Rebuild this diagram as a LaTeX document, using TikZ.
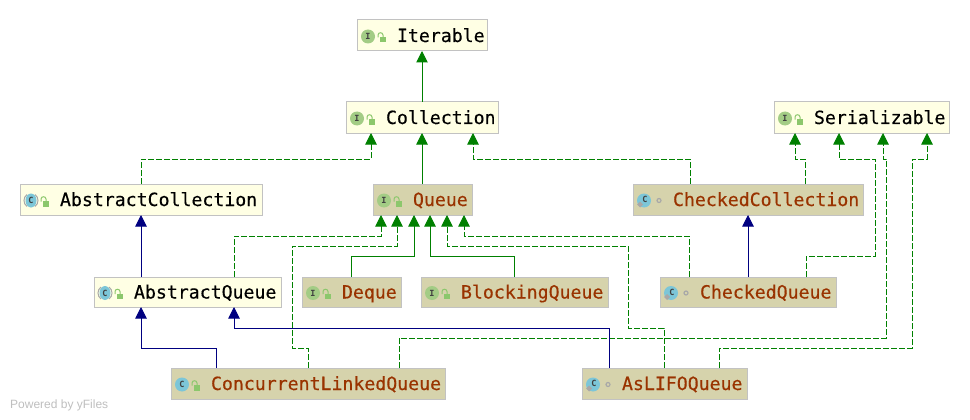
\documentclass[tikz,border=0pt]{standalone}
\usepackage{fontspec}
\setmainfont{Liberation Sans}
\newfontfamily\dmono[FakeBold=0.4]{DejaVu Sans Mono}
\newfontfamily\dmonoletter{DejaVu Sans Mono}
\usetikzlibrary{arrows.meta}
\definecolor{ygreen}{HTML}{008000}
\definecolor{ynavy}{HTML}{000080}
\definecolor{boxlight}{HTML}{FFFFE4}
\definecolor{boxtan}{HTML}{D6D3AC}
\definecolor{boxline}{HTML}{C2C2C2}
\definecolor{txtbrown}{HTML}{993300}
\definecolor{icoI}{HTML}{A3CC85}
\definecolor{icoC}{HTML}{7CC6D8}
\definecolor{icoLock}{HTML}{8CC76C}
\definecolor{icoGray}{HTML}{A8A8A8}
\tikzset{
  umlbase/.style={draw=boxline,line width=1pt,inner sep=0pt,outer sep=0pt,align=left,
    font=\dmono\fontsize{18.2}{20}\selectfont,text height=16pt,text depth=3pt,anchor=north west},
  lightbox/.style={umlbase,fill=boxlight,text=black},
  tanbox/.style={umlbase,fill=boxtan,text=txtbrown},
  conn/.style={line width=1pt,-{Triangle[length=11.5pt,width=11.5pt]}},
  ext/.style={conn,draw=ygreen},
  imp/.style={ext,dash pattern=on 6pt off 2pt},
  inh/.style={conn,draw=ynavy},
  icoletter/.style={font=\dmonoletter\bfseries\fontsize{8.5}{9}\selectfont,text=black!75,inner sep=0pt}
}
% \umlbox{style}{name}{left}{top}{right}{bottom}{text}
\newcommand{\umlbox}[7]{%
  \pgfmathsetmacro{\bw}{#5-#3}\pgfmathsetmacro{\bh}{#6-#4}%
  \node[#1,text width=\bw pt,minimum height=\bh pt] (#2) at (#3,#4) {\hspace*{40pt}#7};}
\newcommand{\icI}[1]{\begin{scope}[shift={(#1.west)}]
  \fill[icoI] (11,1) circle (7);
  \node[icoletter] at (11,1) {I};\end{scope}}
\newcommand{\icC}[1]{\begin{scope}[shift={(#1.west)}]
  \fill[icoC] (11,1) circle (7);
  \node[icoletter] at (11,1) {C};\end{scope}}
\newcommand{\icAbs}[1]{\begin{scope}[shift={(#1.west)}]
  \fill[icoC] (11,1) ellipse (5.5 and 7);
  \draw[icoGray,line width=1pt] (7,-5) .. controls (3,-2) and (3,4) .. (7,7);
  \draw[icoGray,line width=1pt] (15,-5) .. controls (19,-2) and (19,4) .. (15,7);
  \node[icoletter] at (11,1) {C};\end{scope}}
\newcommand{\icStat}[1]{\begin{scope}[shift={(#1.west)}]
  \fill[icoC] (11,1) circle (7);
  \fill[icoGray] (4,5) -- (7,2) -- (10,5) -- (7,8) -- cycle;
  \node[icoletter] at (12,0) {C};\end{scope}}
\newcommand{\icLock}[1]{\begin{scope}[shift={(#1.west)}]
  \fill[icoLock] (22.5,1.5) rectangle (29,7);
  \draw[icoLock,line width=1pt] (21,2) -- (21,-0.5) .. controls (21,-3.5) and (26,-3.5) .. (26,-0.5) -- (26,2);
  \end{scope}}
\newcommand{\icPkg}[1]{\begin{scope}[shift={(#1.west)}]
  \draw[icoGray,line width=1.2pt] (26,1) circle (2);\end{scope}}
\begin{document}
\begin{tikzpicture}[x=1pt,y=-1pt]
\useasboundingbox[fill=white] (0,0) rectangle (970,420);
% boxes
\umlbox{lightbox}{iter}{357}{20}{487}{51}{Iterable}
\umlbox{lightbox}{coll}{346}{102}{498}{133}{Collection}
\umlbox{lightbox}{ser}{774}{102}{949}{133}{Serializable}
\umlbox{lightbox}{ac}{20}{184}{262}{215}{AbstractCollection}
\umlbox{tanbox}{q}{373}{184}{472}{215}{Queue}
\umlbox{tanbox}{cc}{633}{184}{863}{215}{CheckedCollection}
\umlbox{lightbox}{aq}{94}{277}{281}{307}{AbstractQueue}
\umlbox{tanbox}{dq}{302}{277}{401}{307}{Deque}
\umlbox{tanbox}{bq}{421}{277}{608}{307}{BlockingQueue}
\umlbox{tanbox}{cq}{660}{277}{836}{307}{CheckedQueue}
\umlbox{tanbox}{clq}{171}{368}{445}{399}{ConcurrentLinkedQueue}
\umlbox{tanbox}{al}{582}{368}{747}{399}{AsLIFOQueue}
% icons
\icI{iter}\icLock{iter}
\icI{coll}\icLock{coll}
\icI{ser}\icLock{ser}
\icAbs{ac}\icLock{ac}
\icI{q}\icLock{q}
\icStat{cc}\icPkg{cc}
\icAbs{aq}\icLock{aq}
\icI{dq}\icLock{dq}
\icI{bq}\icLock{bq}
\icStat{cq}\icPkg{cq}
\icC{clq}\icLock{clq}
\icStat{al}\icPkg{al}
% solid extends
\draw[ext] ([xshift=76pt]coll.north west) -- ([xshift=65pt]iter.south west);
\draw[ext] ([xshift=49pt]q.north west) -- ([xshift=76pt]coll.south west);
\draw[ext] ([xshift=49pt]dq.north west) -- (351,256) -- (414,256) -- ([xshift=41pt]q.south west);
\draw[ext] ([xshift=93pt]bq.north west) -- (514,256) -- (430,256) -- ([xshift=57pt]q.south west);
% implements
\draw[imp] ([xshift=121pt]ac.north west) -- (141,159) -- (371,159) -- ([xshift=25pt]coll.south west);
\draw[imp] ([xshift=57pt]cc.north west) -- (690,159) -- (473,159) -- ([xshift=127pt]coll.south west);
\draw[imp] ([xshift=172pt]cc.north west) -- (805,159) -- (795,159) -- ([xshift=21pt]ser.south west);
\draw[imp] ([xshift=146pt]cq.north west) -- (806,256) -- (875,256) -- (875,159) -- (839,159) -- ([xshift=65pt]ser.south west);
\draw[imp] ([xshift=228pt]clq.north west) -- (399,338) -- (886,338) -- (886,159) -- (883,159) -- ([xshift=109pt]ser.south west);
\draw[imp] ([xshift=137pt]al.north west) -- (719,348) -- (912,348) -- (912,159) -- (927,159) -- ([xshift=153pt]ser.south west);
\draw[imp] ([xshift=140pt]aq.north west) -- (234,236) -- (381,236) -- ([xshift=8pt]q.south west);
\draw[imp] ([xshift=137pt]clq.north west) -- (308,348) -- (292,348) -- (292,246) -- (397,246) -- ([xshift=24pt]q.south west);
\draw[imp] ([xshift=82pt]al.north west) -- (664,328) -- (628,328) -- (628,246) -- (447,246) -- ([xshift=74pt]q.south west);
\draw[imp] ([xshift=29pt]cq.north west) -- (689,236) -- (464,236) -- ([xshift=91pt]q.south west);
% inheritance
\draw[inh] ([xshift=47pt]aq.north west) -- ([xshift=121pt]ac.south west);
\draw[inh] ([xshift=88pt]cq.north west) -- ([xshift=115pt]cc.south west);
\draw[inh] ([xshift=45pt]clq.north west) -- (216,348) -- (141,348) -- ([xshift=47pt]aq.south west);
\draw[inh] ([xshift=27pt]al.north west) -- (609,328) -- (234,328) -- ([xshift=140pt]aq.south west);
\node[font=\fontsize{12}{14}\selectfont,text=black!25,anchor=base west,inner sep=0pt] (pw) at (10,408) {Powered by yFiles};
\end{tikzpicture}
\end{document}
